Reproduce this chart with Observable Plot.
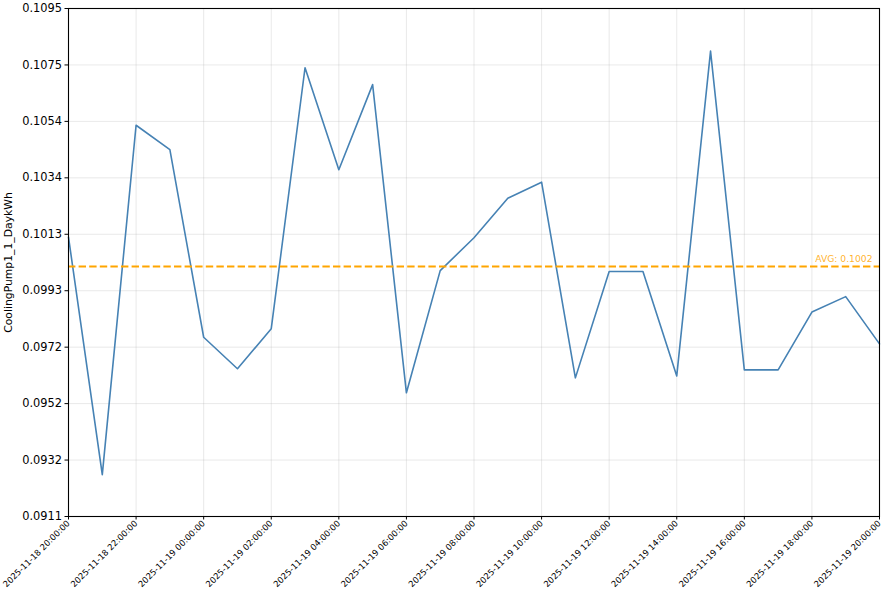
<!DOCTYPE html>
<html>
<head>
<meta charset="utf-8">
<script src="https://cdn.jsdelivr.net/npm/d3@7"></script>
<script src="https://cdn.jsdelivr.net/npm/@observablehq/plot@0.6"></script>
<style>
  html, body { margin: 0; padding: 0; background: white; }
  #chart svg { display: block; }
</style>
</head>
<body>
<div id="chart"></div>
<script>
const times = [
  "2025-11-18T20:00:00Z", "2025-11-18T21:00:00Z", "2025-11-18T22:00:00Z", "2025-11-18T23:00:00Z",
  "2025-11-19T00:00:00Z", "2025-11-19T01:00:00Z", "2025-11-19T02:00:00Z", "2025-11-19T03:00:00Z",
  "2025-11-19T04:00:00Z", "2025-11-19T05:00:00Z", "2025-11-19T06:00:00Z", "2025-11-19T07:00:00Z",
  "2025-11-19T08:00:00Z", "2025-11-19T09:00:00Z", "2025-11-19T10:00:00Z", "2025-11-19T11:00:00Z",
  "2025-11-19T12:00:00Z", "2025-11-19T13:00:00Z", "2025-11-19T14:00:00Z", "2025-11-19T15:00:00Z",
  "2025-11-19T16:00:00Z", "2025-11-19T17:00:00Z", "2025-11-19T18:00:00Z", "2025-11-19T19:00:00Z",
  "2025-11-19T20:00:00Z"
];
const values = [
  0.10122, 0.09263, 0.10527, 0.10439, 0.09760, 0.09646, 0.09791, 0.10735,
  0.10366, 0.10674, 0.09559, 0.10001, 0.10120, 0.10263, 0.10321, 0.09613,
  0.09998, 0.09998, 0.09620, 0.10795, 0.09642, 0.09642, 0.09851, 0.09907,
  0.09736
];
const xTicks = [
  "2025-11-18T20:00:00Z", "2025-11-18T22:00:00Z", "2025-11-19T00:00:00Z", "2025-11-19T02:00:00Z",
  "2025-11-19T04:00:00Z", "2025-11-19T06:00:00Z", "2025-11-19T08:00:00Z", "2025-11-19T10:00:00Z",
  "2025-11-19T12:00:00Z", "2025-11-19T14:00:00Z", "2025-11-19T16:00:00Z", "2025-11-19T18:00:00Z",
  "2025-11-19T20:00:00Z"
];
const yDomain = [0.091115, 0.109493];
const yTicks = [0.091115, 0.093157, 0.095199, 0.097241, 0.099283, 0.101325, 0.103367, 0.105409, 0.107451, 0.109493];
const yTickLabels = ["0.0911", "0.0932", "0.0952", "0.0972", "0.0993", "0.1013", "0.1034", "0.1054", "0.1075", "0.1095"];
const yLabel = "CoolingPump1_1_DaykWh";

const data = times.map((t, i) => ({t: new Date(t), v: values[i]}));
const xTickDates = xTicks.map(t => new Date(t));
const avg = d3.mean(values);
const endDate = new Date(times[times.length - 1]);
const fmt = d3.utcFormat("%Y-%m-%d %H:%M:%S");

const chart = Plot.plot({
  width: 882,
  height: 598,
  marginLeft: 68,
  marginRight: 3,
  marginTop: 8,
  marginBottom: 82,
  style: {fontFamily: "DejaVu Sans", background: "white", color: "black"},
  x: {type: "utc", domain: [new Date(times[0]), endDate]},
  y: {domain: yDomain},
  marks: [
    Plot.gridX(xTickDates, {stroke: "#b0b0b0", strokeOpacity: 0.35, strokeWidth: 0.8}),
    Plot.gridY(yTicks, {stroke: "#b0b0b0", strokeOpacity: 0.35, strokeWidth: 0.8}),
    Plot.line(data, {x: "t", y: "v", stroke: "#4682b4", strokeWidth: 1.6}),
    Plot.ruleY([avg], {stroke: "orange", strokeWidth: 2, strokeDasharray: "7.4,3.2"}),
    Plot.text([avg], {
      x: () => endDate, y: d => d,
      text: d => "AVG: " + d3.format(".4f")(d),
      textAnchor: "end", dx: -7, dy: -8, fill: "orange", fillOpacity: 0.85, fontSize: 9.2
    }),
    Plot.axisY(yTicks, {
      tickFormat: (d, i) => yTickLabels[i],
      fontSize: 11.4, tickSize: 3.5, tickPadding: 3,
      label: null
    }),
    Plot.axisY({
      ticks: [], tickSize: 0, fontSize: 10.8,
      label: yLabel, labelAnchor: "center", labelArrow: "none", labelOffset: 64
    }),
    Plot.axisX(xTickDates, {
      tickFormat: d => fmt(d), tickRotate: -45, fontSize: 8.5,
      tickSize: 3.5, tickPadding: 2, label: null
    }),
    Plot.frame({stroke: "black", strokeWidth: 1.1})
  ]
});
document.getElementById("chart").appendChild(chart);
</script>
</body>
</html>
